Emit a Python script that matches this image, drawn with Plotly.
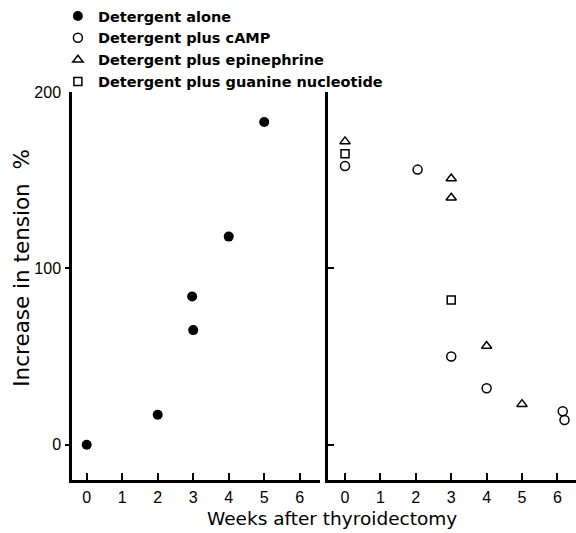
import plotly.graph_objects as go

# ---- data (weeks after thyroidectomy, % increase in tension) ----
alone_weeks = [0, 2, 2.97, 3.0, 4, 5]
alone_vals = [0, 17, 84, 65, 118, 183]

camp_weeks = [0, 2.05, 3, 4, 6.15, 6.2]
camp_vals = [158, 156, 50, 32, 19, 14]

epi_weeks = [0, 3, 3, 4, 5]
epi_vals = [172, 151, 140, 56, 23]

gtp_weeks = [0, 3]
gtp_vals = [165, 82]

x_ticks = [0, 1, 2, 3, 4, 5, 6]
y_ticks = [0, 100, 200]
y_ticktext = ["0", "100", "200"]

names = [
    "Detergent alone",
    "Detergent plus cAMP",
    "Detergent plus epinephrine",
    "Detergent plus guanine nucleotide",
]

fig = go.Figure()
fig.add_trace(go.Scatter(x=alone_weeks, y=alone_vals, mode="markers", name=names[0],
                         xaxis="x", yaxis="y",
                         marker=dict(symbol="circle", size=10, color="black",
                                     line=dict(width=0))))
fig.add_trace(go.Scatter(x=camp_weeks, y=camp_vals, mode="markers", name=names[1],
                         xaxis="x2", yaxis="y2",
                         marker=dict(symbol="circle-open", size=9, color="black",
                                     line=dict(width=1.5))))
fig.add_trace(go.Scatter(x=epi_weeks, y=epi_vals, mode="markers", name=names[2],
                         xaxis="x2", yaxis="y2",
                         marker=dict(symbol="triangle-up-open", size=9, color="black",
                                     line=dict(width=1.5))))
fig.add_trace(go.Scatter(x=gtp_weeks, y=gtp_vals, mode="markers", name=names[3],
                         xaxis="x2", yaxis="y2",
                         marker=dict(symbol="square-open", size=8, color="black",
                                     line=dict(width=1.5))))

tick_font = dict(family="Liberation Sans, Arial, sans-serif", size=16, color="black")
LW = 2.5
xcommon = dict(tickvals=x_ticks, ticks="inside", ticklen=7, tickwidth=1.5,
               tickcolor="black", showline=True, linecolor="black", linewidth=LW,
               showgrid=False, zeroline=False, tickfont=tick_font, ticklabelstandoff=1)

fig.update_layout(
    width=576, height=533,
    margin=dict(l=72, r=0, t=92, b=53, autoexpand=False),
    paper_bgcolor="white", plot_bgcolor="white",
    showlegend=True,
    legend=dict(x=-0.028, y=1.237, xanchor="left", yanchor="top",
                itemwidth=30, tracegroupgap=0, bgcolor="rgba(0,0,0,0)",
                font=dict(family="DejaVu Sans, sans-serif", size=14.5, color="black",
                          weight="bold")),
    xaxis=dict(xcommon, domain=[0, 0.492], range=[-0.414, 6.57], anchor="y"),
    xaxis2=dict(xcommon, domain=[0.508, 1], range=[-0.48, 6.525], anchor="y2"),
    yaxis=dict(domain=[0, 1], range=[-20, 200], anchor="x", tickvals=y_ticks,
               ticktext=y_ticktext, ticks="", showline=True, linecolor="black",
               linewidth=LW, showgrid=False, zeroline=False, tickfont=tick_font,
               ticklabelstandoff=5),
    yaxis3=dict(overlaying="y", anchor="x", range=[-20, 200], tickvals=y_ticks[:2],
                ticks="outside", ticklen=6, tickwidth=1.5, tickcolor="black",
                showticklabels=False, showline=False, showgrid=False, zeroline=False),
    yaxis4=dict(overlaying="y", anchor="x", range=[-20, 200], tickvals=y_ticks[2:],
                ticks="inside", ticklen=6, tickwidth=1.5, tickcolor="black",
                showticklabels=False, showline=False, showgrid=False, zeroline=False),
    yaxis2=dict(domain=[0, 1], range=[-20, 200], anchor="x2", tickvals=y_ticks,
                ticks="inside", ticklen=6, tickwidth=1.5, tickcolor="black",
                showticklabels=False, showline=True, linecolor="black", linewidth=LW,
                showgrid=False, zeroline=False),
)

# invisible helper traces so the overlay tick axes are rendered
fig.add_trace(go.Scatter(x=[], y=[], xaxis="x", yaxis="y3", showlegend=False))
fig.add_trace(go.Scatter(x=[], y=[], xaxis="x", yaxis="y4", showlegend=False))

fig.add_annotation(text="Increase in tension\u00a0\u00a0%", textangle=-90,
                   xref="paper", yref="paper", x=-0.1, y=0.546,
                   showarrow=False, xanchor="center", yanchor="middle",
                   font=dict(family="DejaVu Sans, sans-serif", size=21.5, color="black"))
fig.add_annotation(text="Weeks after thyroidectomy",
                   xref="paper", yref="paper", x=0.516, y=-0.1,
                   showarrow=False, xanchor="center", yanchor="middle",
                   font=dict(family="DejaVu Sans, sans-serif", size=18.5, color="black"))

fig.write_html("out.html")
